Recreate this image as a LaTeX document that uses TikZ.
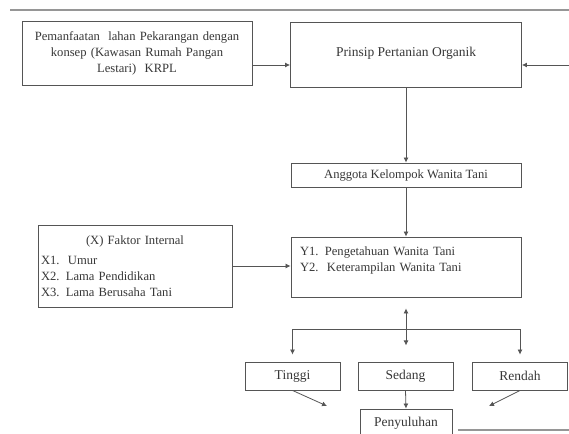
\documentclass[tikz,border=0pt]{standalone}
\usepackage{fontspec}
\setmainfont{Liberation Serif}
\usetikzlibrary{arrows.meta,calc}
\definecolor{ink}{RGB}{55,55,55}
\definecolor{edge}{RGB}{85,85,85}
\definecolor{rulegray}{RGB}{150,150,150}
\tikzset{
  box/.style={draw=edge, line width=0.9pt, text=ink, inner sep=0pt,
              font=\fontsize{13.5}{16}\selectfont, align=center},
  small/.style={font=\fontsize{12.6}{16}\selectfont},
  flow/.style={-{Latex[length=5pt,width=5pt]}, edge, line width=0.8pt},
  both/.style={{Latex[length=5pt,width=5pt]}-{Latex[length=5pt,width=5pt]}, edge, line width=0.8pt},
  rule/.style={rulegray, line width=2pt},
}
\begin{document}
\begin{tikzpicture}[x=1pt,y=-1pt]
  \clip (0,0) rectangle (569,433);
  \fill[white] (0,0) rectangle (569,433);
  % top and bottom page rules
  \coordinate (r1) at (10,10);
  \coordinate (r2) at (569,10);
  \draw[rule] (r1) -- (r2);
  \coordinate (r3) at (458,430);
  \coordinate (r4) at (569,430);
  \draw[rule] (r3) -- (r4);
  % boxes
  \node[box, small, minimum width=230pt, minimum height=64pt, text width=222pt] (krpl) at (137,53)
    {Pemanfaatan\ \ lahan Pekarangan dengan\\konsep (Kawasan Rumah Pangan\\Lestari)\ \ KRPL};
  \node[box, minimum width=231pt, minimum height=65pt, text depth=6.5pt] (prinsip) at (406,55) {Prinsip Pertanian Organik};
  \node[box, small, minimum width=230pt, minimum height=24pt] (anggota) at (406,175)
    {Anggota Kelompok Wanita Tani};
  \node[box, small, minimum width=230pt, minimum height=60pt, text width=212pt, align=left] (ybox) at (406,267)
    {Y1. Pengetahuan Wanita Tani\\Y2.\ \ Keterampilan Wanita Tani\\\mbox{}};
  \node[box, small, minimum width=194pt, minimum height=82pt, text width=188pt, align=left] (xbox) at (135,266)
    {{\centering (X) Faktor Internal\par}\vspace{4pt}X1.\ \ Umur\\X2. Lama Pendidikan\\X3. Lama Berusaha Tani};
  \node[box, minimum width=95pt, minimum height=28pt] (tinggi) at (292.5,376) {Tinggi};
  \node[box, minimum width=95pt, minimum height=28pt] (sedang) at (405.5,376) {Sedang};
  \node[box, minimum width=95pt, minimum height=28pt] (rendah) at (520,376) {Rendah};
  \node[box, minimum width=92pt, minimum height=28pt] (penyuluhan) at (406,423) {Penyuluhan};
  % connectors
  \coordinate (k) at ($(krpl.east)+(0,12)$);
  \draw[flow] (k) -- (k -| prinsip.west);
  \coordinate (rin) at (569,65);
  \draw[flow] (rin) -- (rin -| prinsip.east);
  \draw[flow] (prinsip.south) -- (anggota.north);
  \draw[flow] (anggota.south) -- (ybox.north);
  \draw[flow] (xbox.east) -- (xbox.east -| ybox.west);
  \coordinate (s1) at ($(ybox.south)+(0,11)$);
  \coordinate (s2) at ($(ybox.south)+(0,48)$);
  \draw[both] (s1) -- (s2);
  \coordinate (br) at ($(ybox.south)+(0,32)$);
  \draw[edge, line width=0.8pt] (br -| tinggi.north) -- (br -| rendah.north);
  \draw[flow] (br -| tinggi.north) -- ([yshift=7pt]tinggi.north);
  \draw[flow] (br -| rendah.north) -- ([yshift=7pt]rendah.north);
  \draw[flow] (sedang.south) -- (penyuluhan.north);
  \coordinate (tl) at (327,406);
  \draw[flow] (tinggi.south) -- (tl);
  \coordinate (rl) at (489,406);
  \draw[flow] (rendah.south) -- (rl);
\end{tikzpicture}
\end{document}
